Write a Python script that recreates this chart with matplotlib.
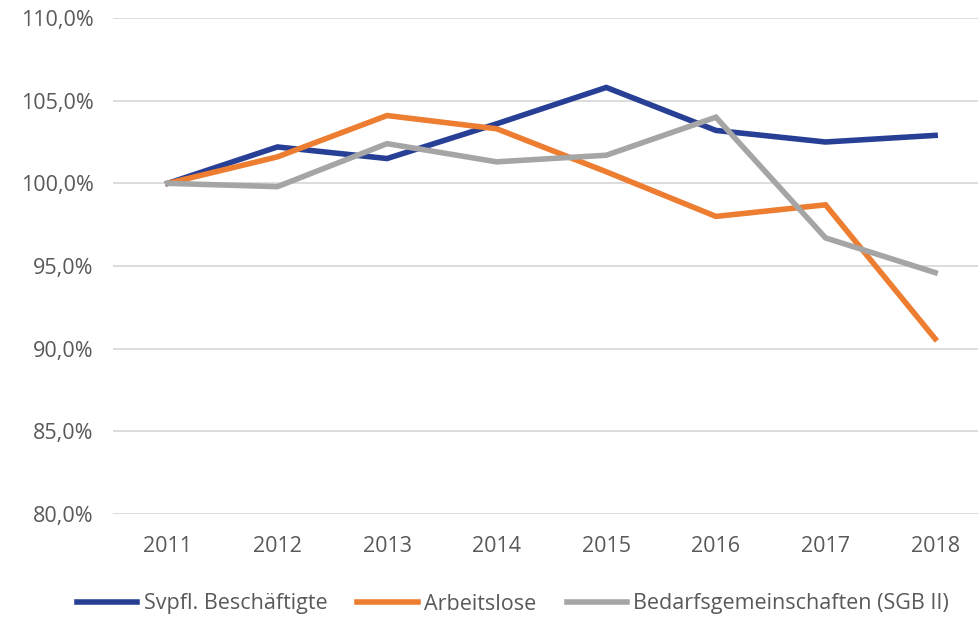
import matplotlib
matplotlib.use("Agg")
import matplotlib.pyplot as plt
from matplotlib.ticker import FuncFormatter

# Data (index, 2011 = 100 %)
years = ["2011", "2012", "2013", "2014", "2015", "2016", "2017", "2018"]
beschaeftigte = [100.0, 102.2, 101.5, 103.6, 105.8, 103.2, 102.5, 102.9]
arbeitslose = [100.0, 101.6, 104.1, 103.3, 100.7, 98.0, 98.7, 90.6]
bedarfsgemeinschaften = [100.0, 99.8, 102.4, 101.3, 101.7, 104.0, 96.7, 94.6]

labels = ["Svpfl. Beschäftigte", "Arbeitslose", "Bedarfsgemeinschaften (SGB II)"]
colors = ["#283F96", "#ED7D31", "#A5A5A5"]
text_color = "#595959"

plt.rcParams["font.family"] = ["Open Sans", "DejaVu Sans"]

fig = plt.figure(figsize=(9.79, 6.17), dpi=100)
ax = fig.add_axes([113 / 979, 1 - 514 / 617, 1 - 113 / 979, (514 - 18) / 617])

x = range(len(years))
for series, label, color in zip([beschaeftigte, arbeitslose, bedarfsgemeinschaften], labels, colors):
    ax.plot(x, series, color=color, linewidth=4, label=label, solid_joinstyle="miter")

ax.set_ylim(80, 110)
ax.set_yticks([80, 85, 90, 95, 100, 105, 110])
ax.yaxis.set_major_formatter(FuncFormatter(lambda v, p: f"{v:.1f}%".replace(".", ",")))
ax.set_xlim(-0.5, 7.4)
ax.set_xticks(list(x))
ax.set_xticklabels(years)

ax.grid(axis="y", color="#D9D9D9", linewidth=1.3)
ax.set_axisbelow(True)
for spine in ax.spines.values():
    spine.set_visible(False)
ax.tick_params(axis="both", length=0, labelsize=15.5, colors=text_color)
ax.tick_params(axis="y", pad=14)
ax.tick_params(axis="x", pad=16)

fig.legend(loc="center", bbox_to_anchor=(513 / 979, 1 - 604 / 617), ncol=3, frameon=False,
           fontsize=15.5, labelcolor=text_color, handlelength=2.8, columnspacing=1.4,
           handletextpad=0.3)

fig.savefig("out.png", dpi=100)
